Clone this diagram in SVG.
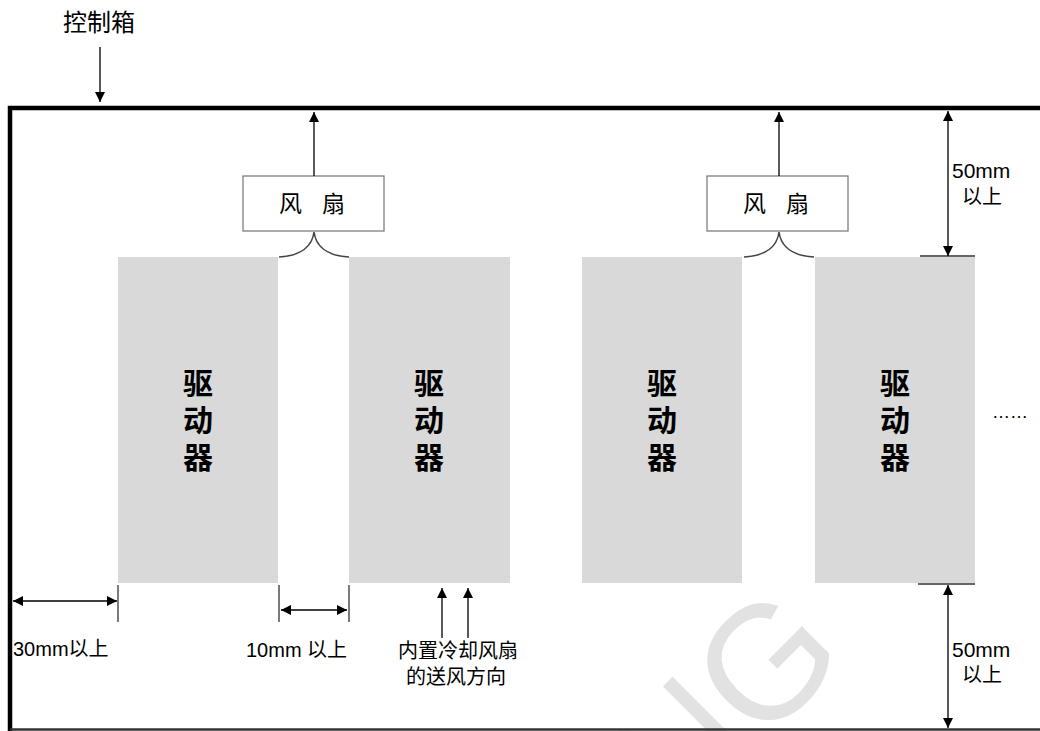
<svg xmlns="http://www.w3.org/2000/svg" width="1040" height="731" viewBox="0 0 1040 731">
<defs>
<style>
.cn{font-family:"Liberation Sans","Noto Sans CJK SC",sans-serif;fill:#000}
.lbl{font-size:20px}
.drv{fill:#d9d9d9}
.drvt{font-size:30px;font-weight:bold;text-anchor:middle}
.fan{fill:#fff;stroke:#7f7f7f;stroke-width:1.3}
.fant{font-size:23px}
.ln{stroke:#000;stroke-width:1.3;fill:none}
.gl{stroke:#444;stroke-width:1.5;fill:none}
.ext{stroke:#333;stroke-width:1.3}
</style>
<marker id="ah" viewBox="0 0 10 10" refX="10" refY="5" markerWidth="10" markerHeight="10" markerUnits="userSpaceOnUse" orient="auto-start-reverse">
<path d="M0,0 L10,5 L0,10 z" fill="#000"/>
</marker>
</defs>
<rect width="1040" height="731" fill="#fff"/>
<g id="watermark">
<text transform="translate(765,660) rotate(-45)" x="62" y="58" font-family="Liberation Sans,sans-serif" font-size="162" fill="#e2e2e2" text-anchor="end">NG</text>
</g>
<g id="cabinet">
<path d="M10,731 L10,108 L1040,108" fill="none" stroke="#000" stroke-width="4.5"/>
<line x1="10" y1="729.5" x2="1040" y2="729.5" stroke="#333" stroke-width="2.5"/>
<text class="cn" x="63" y="31" font-size="24">控制箱</text>
</g>
<g id="drivers">
<g id="driver1"><rect class="drv" x="118" y="257" width="160" height="326"/>
<text class="cn drvt"><tspan x="198" y="394">驱</tspan><tspan x="198" y="431">动</tspan><tspan x="198" y="468">器</tspan></text></g>
<g id="driver2"><rect class="drv" x="349" y="257" width="161" height="326"/>
<text class="cn drvt"><tspan x="429" y="394">驱</tspan><tspan x="429" y="431">动</tspan><tspan x="429" y="468">器</tspan></text></g>
<g id="driver3"><rect class="drv" x="582" y="257" width="160" height="326"/>
<text class="cn drvt"><tspan x="662" y="394">驱</tspan><tspan x="662" y="431">动</tspan><tspan x="662" y="468">器</tspan></text></g>
<g id="driver4"><rect class="drv" x="815" y="257" width="160" height="326"/>
<text class="cn drvt"><tspan x="895" y="394">驱</tspan><tspan x="895" y="431">动</tspan><tspan x="895" y="468">器</tspan></text></g>
</g>
<g id="fan1"><rect class="fan" x="243" y="176" width="141" height="55"/>
<text class="cn fant"><tspan x="279" y="212">风</tspan><tspan x="322" y="212">扇</tspan></text></g>
<g id="fan2"><rect class="fan" x="707" y="176" width="141" height="55"/>
<text class="cn fant"><tspan x="743" y="212">风</tspan><tspan x="786" y="212">扇</tspan></text></g>
<g id="dots"><text class="cn" x="992" y="418" font-size="18">……</text></g>
<g id="labels" class="cn lbl">
<text x="13" y="656">30mm以上</text>
<text x="246" y="657">10mm 以上</text>
<text x="458" y="658" text-anchor="middle">内置冷却风扇</text>
<text x="456" y="684" text-anchor="middle">的送风方向</text>
<text x="952" y="178" font-size="21">50mm</text>
<text x="962" y="204">以上</text>
<text x="952" y="657" font-size="21">50mm</text>
<text x="962" y="682">以上</text>
</g>
<g id="connectors">
<line class="ln" x1="100" y1="47" x2="100" y2="102" marker-end="url(#ah)"/>
<line class="ln" x1="314" y1="176" x2="314" y2="112" marker-end="url(#ah)"/>
<line class="ln" x1="779" y1="176" x2="779" y2="112" marker-end="url(#ah)"/>
<path class="gl" d="M314,232 Q311,255 279,257 M314,232 Q317,255 349,257"/>
<path class="gl" d="M779,232 Q776,255 744,257 M779,232 Q782,255 814,257"/>
<line class="ext" x1="920" y1="256" x2="975" y2="256"/>
<line class="ln" x1="948" y1="256" x2="948" y2="111" marker-start="url(#ah)" marker-end="url(#ah)"/>
<line class="ext" x1="918" y1="584" x2="975" y2="584"/>
<line class="ln" x1="948" y1="585" x2="948" y2="728" marker-start="url(#ah)" marker-end="url(#ah)"/>
<line class="ext" x1="118" y1="585" x2="118" y2="622"/>
<line class="ln" x1="13" y1="601" x2="117" y2="601" marker-start="url(#ah)" marker-end="url(#ah)"/>
<line class="ext" x1="279" y1="585" x2="279" y2="622"/>
<line class="ext" x1="349" y1="585" x2="349" y2="622"/>
<line class="ln" x1="281" y1="610" x2="347" y2="610" marker-start="url(#ah)" marker-end="url(#ah)"/>
<line class="ln" x1="442" y1="638" x2="442" y2="588" marker-end="url(#ah)"/>
<line class="ln" x1="468" y1="638" x2="468" y2="588" marker-end="url(#ah)"/>
</g>
</svg>
